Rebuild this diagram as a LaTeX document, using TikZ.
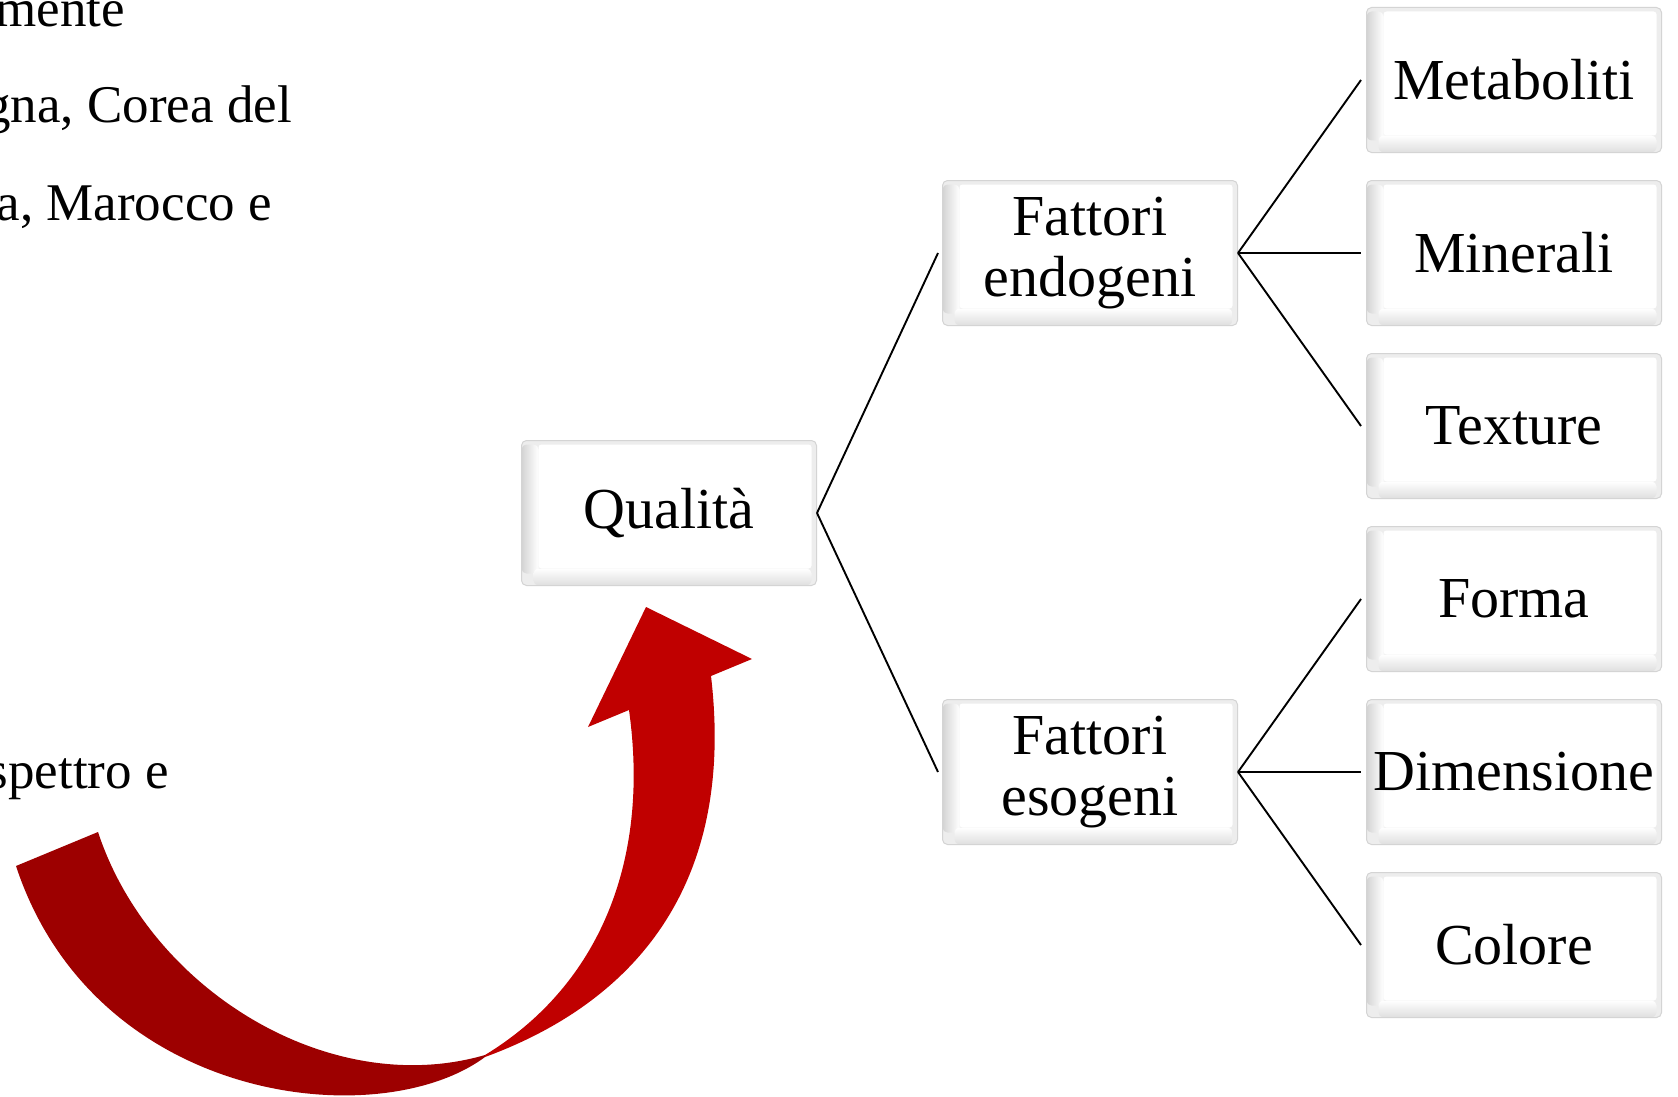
\documentclass[tikz,border=0pt]{standalone}
\usepackage{fontspec}
\setmainfont{Liberation Serif}
\definecolor{arrowdark}{RGB}{157,0,0}
\definecolor{arrowlight}{RGB}{192,0,0}
\tikzset{
	box/.style={rectangle, rounded corners=5pt, draw=black!17, line width=1pt,
		minimum width=295pt, minimum height=145pt, inner sep=0pt, align=center,
		font=\fontsize{58}{61}\selectfont,
		path picture={
			\fill[black!7] (path picture bounding box.south west) rectangle (path picture bounding box.north east);
			\shade[left color=black!17, right color=white] ([yshift=12pt]path picture bounding box.south west) rectangle ([xshift=17pt,yshift=-4pt]path picture bounding box.north west);
			\shade[bottom color=black!13, top color=white] ([xshift=12pt]path picture bounding box.south west) rectangle ([xshift=-5pt,yshift=17pt]path picture bounding box.south east);
			\fill[white, rounded corners=3pt] ([xshift=17pt,yshift=17pt]path picture bounding box.south west) rectangle ([xshift=-5pt,yshift=-4pt]path picture bounding box.north east);
		}},
	link/.style={line width=1.9pt, black},
	pagetext/.style={inner sep=0pt, anchor=base east, font=\fontsize{53}{58}\selectfont},
}
\begin{document}
\begin{tikzpicture}[x=1pt, y=-1pt]
			%%%%% PAGE %%%%%
			\useasboundingbox (0,0) rectangle (1678,1097);
			\fill[white] (0,0) rectangle (1678,1097);
			
			\node[pagetext] (line1) at (125,27) {mente};
			\node[pagetext] (line2) at (292,123) {gna, Corea del};
			\node[pagetext] (line3) at (272,220) {a, Marocco e};
			\node[pagetext] (line4) at (169,788) {spettro e};
			
			%%%%% ARROW %%%%%
			\fill[arrowdark] (16,866) -- (98,832)
				.. controls (150,990) and (330,1100) .. (485,1055)
				-- (485,1057)
				.. controls (380,1135) and (95,1105) .. (16,866)
				-- cycle;
			\fill[arrowlight] (485,1055)
				.. controls (600,985) and (650,860) .. (629,710)
				-- (588,727) -- (646,607) -- (752,659) -- (711,676)
				.. controls (735,880) and (640,1000) .. (485,1057)
				-- cycle;
			
			%%%%% BOXES %%%%%
			\node[box] (qual) at (669,513) {Qualità};
			
			\node[box] (endo) at (1090,253) {Fattori\\endogeni};
			\node[box] (eso) at (1090,772) {Fattori\\esogeni};
			
			\node[box] (meta) at (1514,80) {Metaboliti};
			\node[box] (mine) at (1514,253) {Minerali};
			\node[box] (textu) at (1514,426) {Texture};
			\node[box] (forma) at (1514,599) {Forma};
			\node[box] (dime) at (1514,772) {Dimensione};
			\node[box] (colo) at (1514,945) {Colore};
			
			%%%%% LINKS %%%%%
			\draw[link] (qual.east) -- ([xshift=-4pt]endo.west);
			\draw[link] (qual.east) -- ([xshift=-4pt]eso.west);
			
			\draw[link] (endo.east) -- ([xshift=-5pt]meta.west);
			\draw[link] (endo.east) -- ([xshift=-5pt]mine.west);
			\draw[link] (endo.east) -- ([xshift=-5pt]textu.west);
			
			\draw[link] (eso.east) -- ([xshift=-5pt]forma.west);
			\draw[link] (eso.east) -- ([xshift=-5pt]dime.west);
			\draw[link] (eso.east) -- ([xshift=-5pt]colo.west);
\end{tikzpicture}
\end{document}
